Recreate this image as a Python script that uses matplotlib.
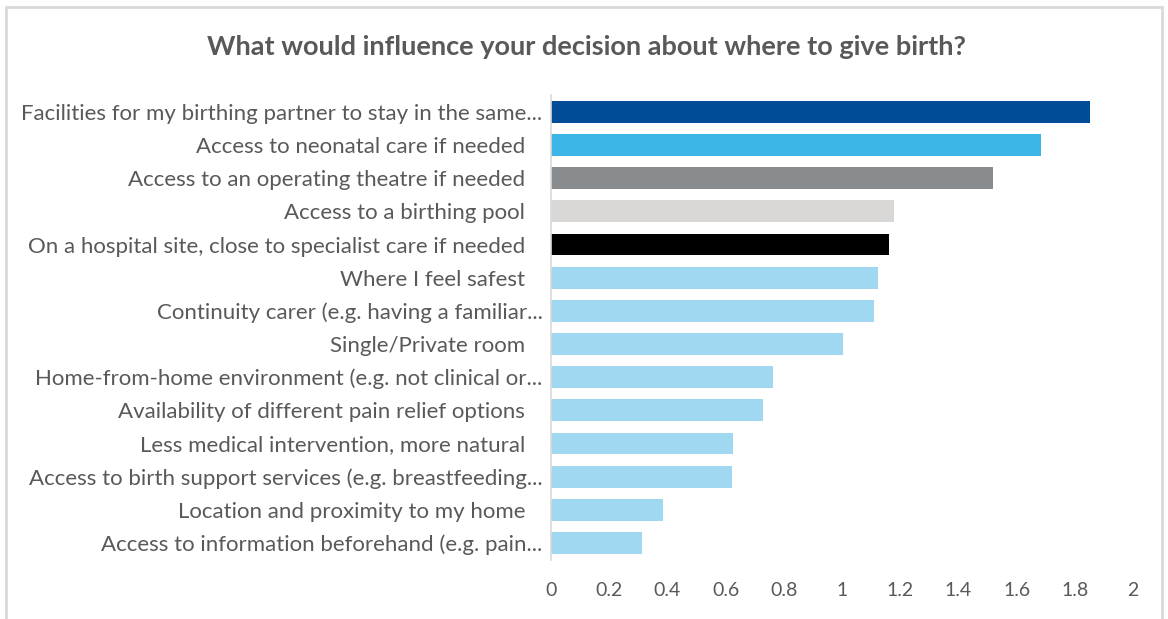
import matplotlib.pyplot as plt
from matplotlib.patches import Rectangle

# data, top to bottom as shown
labels = [
    "Facilities for my birthing partner to stay in the same...",
    "Access to neonatal care if needed   ",
    "Access to an operating theatre if needed   ",
    "Access to a birthing pool   ",
    "On a hospital site, close to specialist care if needed   ",
    "Where I feel safest   ",
    "Continuity carer (e.g. having a familiar...",
    "Single/Private room   ",
    "Home-from-home environment (e.g. not clinical or...",
    "Availability of different pain relief options   ",
    "Less medical intervention, more natural   ",
    "Access to birth support services (e.g. breastfeeding...",
    "Location and proximity to my home   ",
    "Access to information beforehand (e.g. pain...",
]
values = [1.852, 1.684, 1.519, 1.179, 1.162, 1.124, 1.110,
          1.003, 0.763, 0.729, 0.625, 0.622, 0.385, 0.313]
colors = ["#004C97", "#3CB4E5", "#898C8E", "#D9D8D6", "#000000"] + ["#A1D8F1"] * 9
ticks = [0, 0.2, 0.4, 0.6, 0.8, 1, 1.2, 1.4, 1.6, 1.8, 2]

plt.rcParams['font.family'] = ['Lato', 'DejaVu Sans']

fig = plt.figure(figsize=(11.68, 6.19), dpi=100)
ax = fig.add_axes([0.4717, 0.096, 0.4983, 0.75])

# light grey chart frame
fig.patches.append(Rectangle((6 / 1168, -0.05), 1156 / 1168, 1.05 - 7 / 619,
                             transform=fig.transFigure, fill=False,
                             edgecolor="#D9D9D9", linewidth=2))

y = list(range(len(labels)))
ax.barh(y, values, height=0.66, color=colors)
ax.set_ylim(len(labels) - 0.5, -0.5)
ax.set_xlim(0, 2)
ax.set_yticks(y)
ax.set_yticklabels(labels, fontsize=16, color="#595959")
ax.set_xticks(ticks)
ax.set_xticklabels([f"{t:g}" for t in ticks], fontsize=14, color="#595959")
ax.tick_params(axis="both", length=0)
ax.tick_params(axis="x", pad=16)
ax.tick_params(axis="y", pad=6)

for s in ["top", "right", "bottom"]:
    ax.spines[s].set_visible(False)
ax.spines["left"].set_color("#D9D9D9")
ax.spines["left"].set_linewidth(1.2)

fig.text(0.502, 0.924, "What would influence your decision about where to give birth?",
         ha="center", va="center", fontsize=19.5, fontweight="bold", color="#595959")

fig.savefig("out.png", dpi=100)
